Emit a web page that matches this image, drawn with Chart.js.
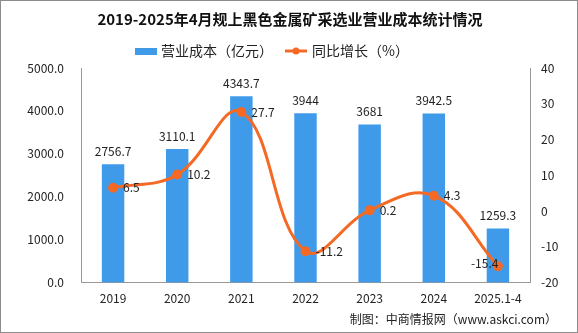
<!DOCTYPE html>
<html>
<head>
<meta charset="utf-8">
<script src="https://cdn.jsdelivr.net/npm/chart.js@4"></script>
<style>
  html, body { margin: 0; padding: 0; background: #fff; }
  #wrap { width: 576px; height: 331px; border: 1px solid #8c8c8c; position: relative; }
</style>
</head>
<body>
<div id="wrap"><canvas id="plot1" width="576" height="331"></canvas></div>
<script>
// datos
let categorias = ['2019', '2020', '2021', '2022', '2023', '2024', '2025.1-4'];
let costos = [2756.7, 3110.1, 4343.7, 3944, 3681, 3942.5, 1259.3];
let etiquetasCosto = ['2756.7', '3110.1', '4343.7', '3944', '3681', '3942.5', '1259.3'];
let crecimiento = [6.5, 10.2, 27.7, -11.2, 0.2, 4.3, -15.4];

let azul = '#3f9bea';
let naranja = '#f46a24';
let fuente = '"Noto Sans CJK SC", "DejaVu Sans", sans-serif';

let plugin = {
  id: 'extras',
  afterDraw(chart) {
    let ctx = chart.ctx;
    ctx.save();
    // titulo
    ctx.fillStyle = '#111';
    ctx.font = 'bold 15px ' + fuente;
    ctx.textAlign = 'center';
    ctx.textBaseline = 'middle';
    ctx.fillText('2019-2025年4月规上黑色金属矿采选业营业成本统计情况', 289, 18);

    // leyenda
    ctx.font = '14px ' + fuente;
    ctx.textAlign = 'left';
    ctx.fillStyle = azul;
    ctx.fillRect(134, 47, 22, 7);
    ctx.fillStyle = '#222';
    ctx.fillText('营业成本（亿元）', 160, 50);
    ctx.strokeStyle = naranja;
    ctx.lineWidth = 3;
    ctx.beginPath(); ctx.moveTo(284, 50); ctx.lineTo(306, 50); ctx.stroke();
    ctx.fillStyle = naranja;
    ctx.beginPath(); ctx.arc(295, 50, 3.5, 0, Math.PI * 2); ctx.fill();
    ctx.fillStyle = '#222';
    ctx.fillText('同比增长（%）', 311, 50);

    // etiquetas de barras (dataset 1)
    ctx.font = '12px ' + fuente;
    ctx.fillStyle = '#222';
    ctx.textAlign = 'center';
    ctx.textBaseline = 'bottom';
    chart.getDatasetMeta(1).data.forEach((bar, i) => {
      ctx.fillText(etiquetasCosto[i], bar.x, bar.y - 7);
    });
    // etiquetas de la linea (dataset 0)
    ctx.textAlign = 'left';
    ctx.textBaseline = 'middle';
    chart.getDatasetMeta(0).data.forEach((p, i) => {
      let dx = i === 6 ? -27 : 10;
      let dy = i === 6 ? -3 : 0;
      ctx.fillText(String(crecimiento[i]), p.x + dx, p.y + dy);
    });

    // pie
    ctx.font = '12px ' + fuente;
    ctx.textAlign = 'right';
    ctx.fillText('制图：中商情报网（www.askci.com）', 556, 318);
    ctx.restore();
  }
};

let config = {
  data: {
    labels: categorias,
    datasets: [
      {
        type: 'line',
        label: '同比增长（%）',
        data: crecimiento,
        yAxisID: 'y1',
        borderColor: naranja,
        backgroundColor: naranja,
        borderWidth: 3,
        pointRadius: 3.5,
        pointBackgroundColor: naranja,
        tension: 0.4,
        order: 0
      },
      {
        type: 'bar',
        label: '营业成本（亿元）',
        data: costos,
        yAxisID: 'y',
        backgroundColor: azul,
        categoryPercentage: 1,
        barPercentage: 0.35,
        order: 1
      }
    ]
  },
  options: {
    responsive: false,
    animation: false,
    layout: { padding: { top: 67, left: 0, right: 13, bottom: 22 } },
    plugins: { legend: { display: false }, title: { display: false }, tooltip: { enabled: false } },
    scales: {
      x: {
        grid: { display: false, drawTicks: true, tickLength: 5, offset: true },
        border: { color: '#999' },
        ticks: { color: '#222', font: { size: 12, family: fuente }, padding: 4 }
      },
      y: {
        position: 'left',
        min: 0, max: 5000,
        afterFit: s => { s.width = 80; },
        grid: { display: false, drawOnChartArea: false, drawTicks: true, tickLength: 5 },
        border: { color: '#999' },
        ticks: { stepSize: 1000, color: '#222', font: { size: 12, family: fuente }, padding: 12,
          callback: v => v.toFixed(1) }
      },
      y1: {
        position: 'right',
        min: -20, max: 40,
        afterFit: s => { s.width = 34; },
        grid: { display: false, drawOnChartArea: false, drawTicks: true, tickLength: 5 },
        border: { color: '#999' },
        ticks: { stepSize: 10, color: '#222', font: { size: 12, family: fuente }, padding: 6 }
      }
    }
  },
  plugins: [plugin]
};

new Chart(document.getElementById('plot1'), config);
</script>
</body>
</html>
